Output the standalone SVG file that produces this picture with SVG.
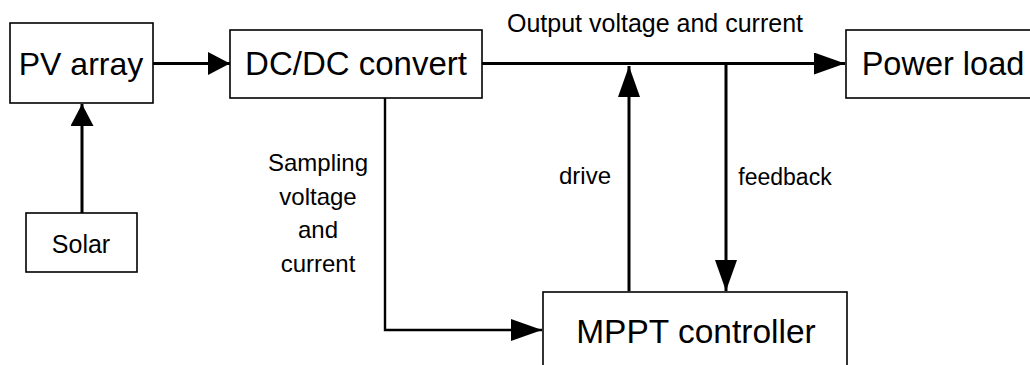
<svg xmlns="http://www.w3.org/2000/svg" width="1030" height="365" viewBox="0 0 1030 365">
<defs>
<style>
.box{fill:#fff;stroke:#000;stroke-width:1.6}
.lbl{font-family:"Liberation Sans",Arial,sans-serif;fill:#000;text-anchor:middle}
.wire{fill:none;stroke:#000;stroke-width:3}
.thin{fill:none;stroke:#000;stroke-width:2.4}
</style>
<marker id="ahS" markerUnits="userSpaceOnUse" markerWidth="24" markerHeight="24" refX="22" refY="11.5" orient="auto"><path d="M0,0 L22,11.5 L0,23 Z" fill="#000"/></marker>
<marker id="ahL" markerUnits="userSpaceOnUse" markerWidth="34" markerHeight="24" refX="31" refY="11" orient="auto"><path d="M0,0 L31,11 L0,22 Z" fill="#000"/></marker>
</defs>
<g id="connectors">
<line class="wire" x1="153" y1="63.5" x2="230" y2="63.5" marker-end="url(#ahS)"/>
<line class="wire" x1="82" y1="213" x2="82" y2="104" marker-end="url(#ahS)"/>
<line class="wire" x1="482" y1="63.5" x2="845" y2="63.5" marker-end="url(#ahL)"/>
<line class="wire" x1="629" y1="291" x2="629" y2="66" marker-end="url(#ahL)"/>
<line class="wire" x1="726" y1="63.5" x2="726" y2="291" marker-end="url(#ahL)"/>
<polyline class="thin" points="385,98 385,330 542,330" marker-end="url(#ahL)"/>
<text class="lbl" x="655" y="32" font-size="25">Output voltage and current</text>
<text class="lbl" x="318" y="171" font-size="24">Sampling</text>
<text class="lbl" x="318" y="205" font-size="24">voltage</text>
<text class="lbl" x="318" y="238" font-size="24">and</text>
<text class="lbl" x="318" y="272" font-size="24">current</text>
<text class="lbl" x="585" y="184" font-size="24">drive</text>
<text class="lbl" x="785" y="185" font-size="23">feedback</text>
</g>
<g id="pv">
<rect class="box" x="10" y="23" width="143" height="80"/>
<text class="lbl" x="81" y="75" font-size="32">PV array</text>
</g>
<g id="solar">
<rect class="box" x="26" y="213" width="111" height="59"/>
<text class="lbl" x="81" y="253" font-size="25">Solar</text>
</g>
<g id="dcdc">
<rect class="box" x="230" y="30" width="252" height="68"/>
<text class="lbl" x="356" y="75" font-size="33">DC/DC convert</text>
</g>
<g id="load">
<rect class="box" x="846" y="30" width="200" height="68"/>
<text class="lbl" x="943" y="75" font-size="32.5">Power load</text>
</g>
<g id="mppt">
<rect class="box" x="543" y="292" width="304" height="90"/>
<text class="lbl" x="696" y="343" font-size="33.5">MPPT controller</text>
</g>
</svg>
